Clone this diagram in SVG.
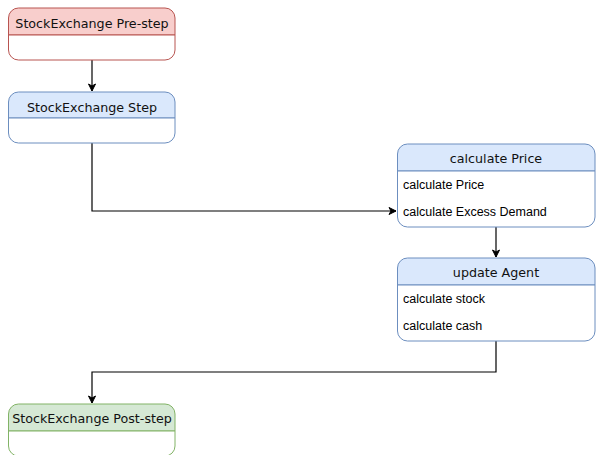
<svg xmlns="http://www.w3.org/2000/svg" width="600" height="455" viewBox="0 0 600 455">
<style>
.t{font-family:"DejaVu Sans",Verdana,sans-serif;font-size:12.7px;fill:#111;text-anchor:middle}
.r{font-family:"Liberation Sans",Arial,sans-serif;font-size:12.5px;fill:#000}
.red{fill:#f8cecc;stroke:#b85450}
.blue{fill:#dae8fc;stroke:#6c8ebf}
.green{fill:#d5e8d4;stroke:#82b366}
.body{fill:#fff}
.c{fill:none;stroke:#000;stroke-width:1.2}
</style>
<defs>
<marker id="a" markerWidth="10" markerHeight="10" refX="8" refY="5" orient="auto" markerUnits="userSpaceOnUse">
<path d="M1,1.5 L8,5 L1,8.5 L3,5 Z" fill="#000" stroke="#000" stroke-width="1"/>
</marker>
</defs>
<rect width="600" height="455" fill="#fff"/>
<g id="connectors">
<path class="c" d="M92,60 V91" marker-end="url(#a)"/>
<path class="c" d="M92,143 V211 H396" marker-end="url(#a)"/>
<path class="c" d="M496,227 V257" marker-end="url(#a)"/>
<path class="c" d="M496,341 V372 H92 V403" marker-end="url(#a)"/>
</g>
<g id="prestep">
<path class="red" d="M8.5,35 V18 a10,10 0 0 1 10,-10 H165 a10,10 0 0 1 10,10 V35 Z"/>
<path class="body" stroke="#b85450" d="M8.5,35 V50 a10,10 0 0 0 10,10 H165 a10,10 0 0 0 10,-10 V35 Z"/>
<text class="t" x="92" y="28">StockExchange Pre-step</text>
</g>
<g id="step">
<path class="blue" d="M8.5,118 V102 a10,10 0 0 1 10,-10 H165 a10,10 0 0 1 10,10 V118 Z"/>
<path class="body" stroke="#6c8ebf" d="M8.5,118 V133 a10,10 0 0 0 10,10 H165 a10,10 0 0 0 10,-10 V118 Z"/>
<text class="t" x="92" y="111.5">StockExchange Step</text>
</g>
<g id="calcPrice">
<path class="blue" d="M397.5,171 V154 a10,10 0 0 1 10,-10 H585 a10,10 0 0 1 10,10 V171 Z"/>
<path class="body" stroke="#6c8ebf" d="M397.5,171 V217 a10,10 0 0 0 10,10 H585 a10,10 0 0 0 10,-10 V171 Z"/>
<text class="t" x="496" y="163">calculate Price</text>
<text class="r" x="403" y="188.5">calculate Price</text>
<text class="r" x="403" y="215.5">calculate Excess Demand</text>
</g>
<g id="updateAgent">
<path class="blue" d="M397.5,285 V268 a10,10 0 0 1 10,-10 H585 a10,10 0 0 1 10,10 V285 Z"/>
<path class="body" stroke="#6c8ebf" d="M397.5,285 V331 a10,10 0 0 0 10,10 H585 a10,10 0 0 0 10,-10 V285 Z"/>
<text class="t" x="496" y="277">update Agent</text>
<text class="r" x="403" y="302.5">calculate stock</text>
<text class="r" x="403" y="329.5">calculate cash</text>
</g>
<g id="poststep">
<path class="green" d="M8.5,431 V414 a10,10 0 0 1 10,-10 H165 a10,10 0 0 1 10,10 V431 Z"/>
<path class="body" stroke="#82b366" d="M8.5,431 V446 a10,10 0 0 0 10,10 H165 a10,10 0 0 0 10,-10 V431 Z"/>
<text class="t" x="92" y="423">StockExchange Post-step</text>
</g>
</svg>
